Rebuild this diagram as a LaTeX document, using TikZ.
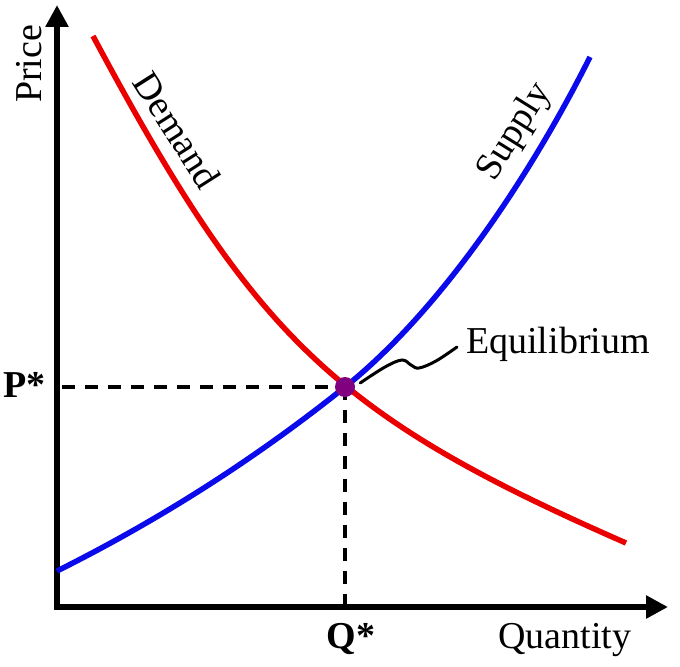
\documentclass[tikz,border=0pt]{standalone}
\usepackage{fontspec}
\setmainfont{Liberation Serif}
\usetikzlibrary{arrows.meta}
\definecolor{dred}{RGB}{235,0,0}
\definecolor{dblue}{RGB}{10,10,235}
\definecolor{dpurple}{RGB}{128,0,128}
\tikzset{
  axisline/.style={line width=6.5bp, line join=miter, >={Triangle[length=22bp,width=22bp]}, <->},
  curve/.style={line width=5.5bp},
  guide/.style={line width=4bp, dash pattern=on 13bp off 10bp},
  lbl/.style={font=\fontsize{38bp}{44bp}\selectfont, inner sep=0pt},
  blbl/.style={font=\fontsize{38bp}{44bp}\selectfont\bfseries, inner sep=0pt},
  squig/.style={line width=3bp, line cap=round}
}
\begin{document}
\begin{tikzpicture}[x=1bp,y=-1bp]
\useasboundingbox (0,0) rectangle (680,667);
% axes
\coordinate (ytop) at (57,5);
\coordinate (O) at (57,607);
\coordinate (xend) at (668,607);
\draw[axisline] (ytop) |- (xend);
% equilibrium point
\coordinate (E) at (345,387);
% guide lines
\draw[guide] (62,387) -- (E);
\draw[guide] (E) -- (E |- O);
% demand
\coordinate (d0) at (93,36);
\coordinate (d1) at (626,543);
\draw[curve, dred] (d0) .. controls (255,339) and (335,415.5) .. (d1);
% supply
\coordinate (s0) at (57,571);
\coordinate (s1) at (590,57);
\draw[curve, dblue] (s0) .. controls (153,523) and (249,463.8) .. (E)
                         .. controls (435,315) and (525,186.6) .. (s1);
% dot
\node[circle, fill=dpurple, minimum size=20bp, inner sep=0pt] (eq) at (E) {};
% labels
\node[lbl, anchor=base west, rotate=90] (price) at (41,103) {Price};
\node[lbl, anchor=base west] (qty) at (498,648) {Quantity};
\node[blbl, anchor=base east] (pstar) at (46,397) {P*};
\node[blbl, anchor=base] (qstar) at (351,648) {Q*};
\node[lbl, rotate=-57.5] (dem) at (177,130) {Demand};
\node[lbl, rotate=58] (sup) at (515,132) {Supply};
\node[lbl, anchor=base west] (eqlbl) at (466,353) {Equilibrium};
% squiggle connector
\coordinate (q0) at ([shift={(5,-4)}]eq.east);
\coordinate (q1) at ([shift={(-9,-6)}]eqlbl.base west);
\draw[squig] plot[smooth, tension=0.6] coordinates {(q0) (385,367) (402,360) (411,365) (419,368) (436,361) (q1)};
\end{tikzpicture}
\end{document}
